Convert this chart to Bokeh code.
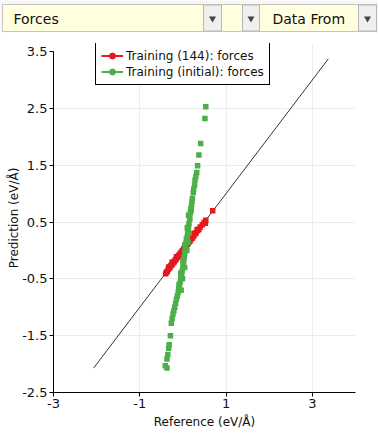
import math
from bokeh.plotting import figure
from bokeh.models import Range1d, FixedTicker, Legend, LegendItem
from bokeh.embed import file_html
from bokeh.resources import INLINE
from bokeh.core.properties import value

# ---------------- data ----------------
series_names = ["Training (144): forces", "Training (initial): forces"]
series_colors = ["#e41a1c", "#4daf4a"]

red_ref = [-0.40, -0.38, -0.36, -0.34, -0.33, -0.32, -0.30, -0.28, -0.26, -0.25,
           -0.24, -0.22, -0.20, -0.18, -0.16, -0.15, -0.14, -0.12, -0.10, -0.08,
           -0.06, -0.04, -0.02, 0.00, 0.02, 0.04, 0.05, 0.06, 0.08, 0.10,
           0.12, 0.14, 0.15, 0.16, 0.18, 0.20, 0.22, 0.25, 0.26, 0.28,
           0.31, 0.33, 0.34, 0.37, 0.40, 0.45, 0.49, 0.52, 0.53, 0.69]
red_pred = [-0.41, -0.38, -0.37, -0.33, -0.29, -0.31, -0.30, -0.27, -0.25, -0.21,
            -0.24, -0.21, -0.20, -0.17, -0.16, -0.11, -0.13, -0.12, -0.09, -0.08,
            -0.05, -0.04, -0.01, 0.00, 0.03, 0.04, 0.09, 0.07, 0.08, 0.11,
            0.12, 0.15, 0.19, 0.16, 0.19, 0.21, 0.22, 0.25, 0.30, 0.29,
            0.31, 0.37, 0.35, 0.37, 0.41, 0.45, 0.49, 0.48, 0.53, 0.70]

green_ref = [0.53, 0.51, 0.41, 0.37, 0.34, 0.32, 0.30, 0.28, 0.27, 0.25,
             0.24, 0.22, 0.21, 0.20, 0.19, 0.18, 0.17, 0.13, 0.15, 0.16,
             0.14, 0.13, 0.10, 0.12, 0.14, 0.11, 0.10, 0.09, 0.08, 0.12,
             0.07, 0.05, 0.06, 0.09, 0.05, 0.04, 0.03, 0.02, 0.00, 0.01,
             0.04, 0.00, -0.02, -0.05, -0.03, -0.01, -0.05, -0.06, -0.09, -0.08,
             -0.04, -0.10, -0.11, -0.13, -0.15, -0.17, -0.19, -0.21, -0.23, -0.25,
             -0.27, -0.29, -0.32, -0.33, -0.35, -0.37, -0.41, -0.37]
green_pred = [2.53, 2.32, 1.88, 1.68, 1.49, 1.37, 1.30, 1.24, 1.15, 1.08,
              1.02, 0.92, 0.86, 0.80, 0.70, 0.73, 0.66, 0.62, 0.60, 0.55,
              0.48, 0.42, 0.40, 0.36, 0.30, 0.30, 0.24, 0.18, 0.20, 0.15,
              0.12, 0.10, 0.06, 0.00, 0.00, -0.06, -0.12, -0.18, -0.20, -0.24,
              -0.30, -0.30, -0.36, -0.40, -0.42, -0.50, -0.48, -0.55, -0.60, -0.62,
              -0.70, -0.68, -0.74, -0.80, -0.86, -0.93, -1.00, -1.06, -1.12, -1.20,
              -1.28, -1.50, -1.66, -1.72, -1.83, -1.91, -2.03, -2.07]

diag_ends = [-2.07, 3.37]
x_ticks = [-3, -1, 1, 3]
y_ticks = [-2.5, -1.5, -0.5, 0.5, 1.5, 2.5, 3.5]
header_texts = ["Forces", "Data From"]

FONT = "DejaVu Sans"

# ---------------- header bar ----------------
hdr = figure(width=378, height=33, x_range=Range1d(0, 378), y_range=Range1d(33, 0),
             output_backend="svg", toolbar_location=None, min_border=0)
hdr.axis.visible = False
hdr.grid.visible = False
hdr.outline_line_color = None
hdr.background_fill_color = "#f6f6f6"
hdr.border_fill_color = "#f6f6f6"
hdr.quad(left=[2], right=[376], top=[31], bottom=[33], fill_color="white", line_color=None)
hdr.quad(left=[2], right=[376], top=[4], bottom=[31], fill_color="#ffffe0", line_color="#c4c4c4")
hdr.quad(left=[203, 242, 358], right=[221, 259, 376], top=[4.5, 4.5, 4.5], bottom=[30.5, 30.5, 30.5],
         fill_color="#efefef", line_color="#b8b8b8")
hdr.scatter(x=[212, 250.5, 367], y=[18, 18, 18], marker="inverted_triangle", size=7,
            fill_color="#444444", line_color=None)
hdr.text(x=[13, 272], y=[18, 18], text=header_texts, text_font=value(FONT),
         text_font_size="14px", text_baseline="middle", text_color="#111111")

# ---------------- main plot ----------------
Y_LO, Y_HI = -2.5, 3.5
y_top = Y_HI + 8 / 56.83   # a little headroom above the last tick for the legend
p = figure(width=378, height=401, x_range=Range1d(-3, 4), y_range=Range1d(Y_LO, y_top),
           output_backend="svg", toolbar_location=None,
           min_border_left=53, min_border_right=23, min_border_top=10, min_border_bottom=42,
           x_axis_label="Reference (eV/Å)", y_axis_label="Prediction (eV/Å)")
p.outline_line_color = None
p.background_fill_color = "white"
p.border_fill_color = "white"

p.xaxis.ticker = FixedTicker(ticks=x_ticks)
p.yaxis.ticker = FixedTicker(ticks=y_ticks)
p.xaxis.major_label_overrides = {t: f"{t:g}" for t in x_ticks}
p.yaxis.major_label_overrides = {t: f"{t:g}" for t in y_ticks}
p.yaxis.bounds = (Y_LO, Y_HI)
p.xgrid.ticker = FixedTicker(ticks=x_ticks)
p.ygrid.ticker = FixedTicker(ticks=y_ticks[:-1])
p.xgrid.bounds = (Y_LO, Y_HI)
p.grid.grid_line_color = "#ececec"
p.grid.grid_line_width = 1
for ax in (p.xaxis[0], p.yaxis[0]):
    ax.axis_line_color = "black"
    ax.major_tick_line_color = "black"
    ax.major_tick_out = 4
    ax.major_tick_in = 0
    ax.minor_tick_line_color = None
    ax.major_label_text_font = FONT
    ax.major_label_text_font_size = "13px"
    ax.major_label_text_color = "#111111"
    ax.axis_label_text_font = FONT
    ax.axis_label_text_font_size = "12px"
    ax.axis_label_text_font_style = "normal"
    ax.axis_label_text_color = "#111111"
    ax.major_label_standoff = 2
p.xaxis.axis_label_standoff = 4
p.yaxis.axis_label_standoff = -2

p.line(x=diag_ends, y=diag_ends, line_color="#333333", line_width=1)
p.scatter(x=red_ref, y=red_pred, marker="square", size=5.5,
          fill_color=series_colors[0], line_color=None)
p.scatter(x=green_ref, y=green_pred, marker="square", size=5.5,
          fill_color=series_colors[1], line_color=None)

# legend glyphs (line + circle)
items = []
for name, col in zip(series_names, series_colors):
    lr = p.line(x=[math.nan], y=[math.nan], line_color=col, line_width=2)
    cr = p.scatter(x=[math.nan], y=[math.nan], marker="circle", size=7,
                   fill_color=col, line_color=col)
    items.append(LegendItem(label=name, renderers=[lr, cr]))

legend = Legend(items=items, location=(42, 307))
legend.border_line_color = "black"
legend.border_line_width = 1
legend.border_line_alpha = 1
legend.background_fill_color = "white"
legend.background_fill_alpha = 1
legend.label_text_font = FONT
legend.label_text_font_size = "12px"
legend.label_text_color = "#111111"
legend.glyph_width = 22
legend.glyph_height = 15
legend.label_height = 15
legend.label_standoff = 3
legend.padding = 5
legend.spacing = 1
legend.margin = 0
p.add_layout(legend)

open("out.html", "w").write(file_html([hdr, p], INLINE))
